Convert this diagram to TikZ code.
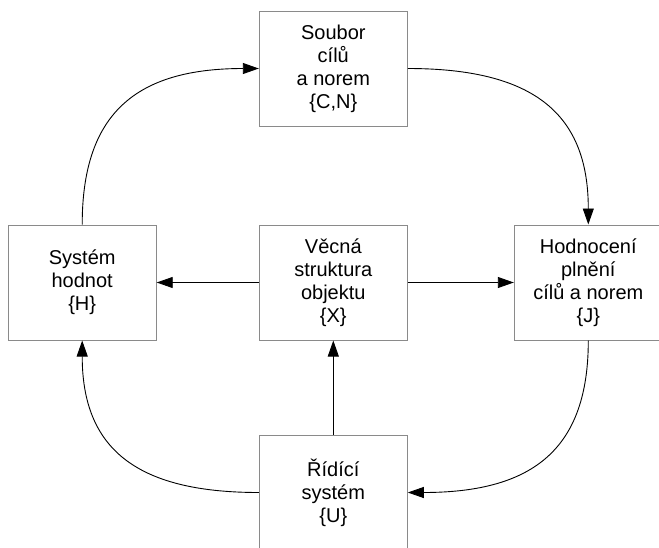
\documentclass[tikz,border=0pt]{standalone}
\usepackage{fontspec}
\setmainfont{Liberation Sans}
\usetikzlibrary{arrows.meta}
\definecolor{boxgray}{HTML}{8A8A8A}
\tikzset{
  blockbox/.style={draw=boxgray, line width=1pt, fill=white, minimum width=148pt, minimum height=115pt, align=center, inner sep=0pt, font=\fontsize{20}{23}\selectfont},
  arr/.style={draw=black, line width=0.9pt, -{Triangle[length=16pt,width=11pt]}}
}
\begin{document}
\begin{tikzpicture}[x=1pt,y=-1pt]
\useasboundingbox (0,0) rectangle (659,547);
\clip (0,0) rectangle (659,547);
\node[blockbox] (top) at (333.3,68.5) {Soubor\\cílů\\a norem\\\{C,N\}};
\node[blockbox] (left) at (82.2,282.5) {Systém\\hodnot\\\{H\}};
\node[blockbox] (center) at (333.3,282.5) {Věcná\\struktura\\objektu\\\{X\}};
\node[blockbox] (right) at (588.3,282.5) {Hodnocení\\plnění\\cílů a norem\\\{J\}};
\node[blockbox] (bottom) at (333.3,492.5) {Řídící\\systém\\\{U\}};
\draw[arr] (top.east) .. controls +(127,0) and +(0,-110) .. (right.north);
\draw[arr] (right.south) .. controls +(0,107) and +(127,0) .. (bottom.east);
\draw[arr] (bottom.west) .. controls +(-124,0) and +(0,107) .. (left.south);
\draw[arr] (left.north) .. controls +(0,-110) and +(-124,0) .. (top.west);
\draw[arr] (center.west) -- (left.east);
\draw[arr] (center.east) -- (right.west);
\draw[arr] (bottom.north) -- (center.south);
\end{tikzpicture}
\end{document}
